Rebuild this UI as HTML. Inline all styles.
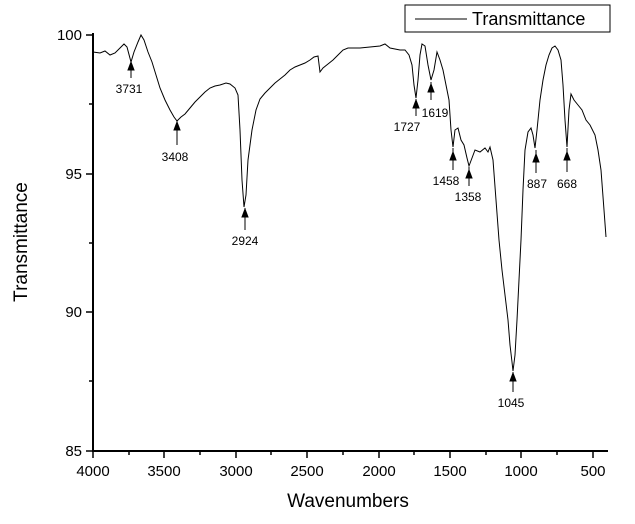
<!DOCTYPE html>
<html><head><meta charset="utf-8"><style>
html,body{margin:0;padding:0;background:#fff;}
svg{display:block;font-family:"Liberation Sans",Arial,sans-serif;}
</style></head><body>
<svg width="635" height="524" viewBox="0 0 635 524" xmlns="http://www.w3.org/2000/svg">
<rect width="635" height="524" fill="#fff"/>
<!-- axes -->
<g stroke="#000" stroke-width="2" fill="none">
<line x1="93" y1="33" x2="93" y2="451"/>
<line x1="92" y1="451" x2="608" y2="451"/>
</g>
<g stroke="#000" stroke-width="1.5">
<line x1="86" y1="35" x2="93" y2="35"/><line x1="86" y1="174" x2="93" y2="174"/>
<line x1="86" y1="312" x2="93" y2="312"/><line x1="86" y1="451" x2="93" y2="451"/>
<line x1="89" y1="104" x2="93" y2="104"/><line x1="89" y1="243" x2="93" y2="243"/><line x1="89" y1="381" x2="93" y2="381"/>
<line x1="93" y1="451" x2="93" y2="458"/><line x1="164" y1="451" x2="164" y2="458"/><line x1="236" y1="451" x2="236" y2="458"/>
<line x1="307" y1="451" x2="307" y2="458"/><line x1="379" y1="451" x2="379" y2="458"/><line x1="450" y1="451" x2="450" y2="458"/>
<line x1="521" y1="451" x2="521" y2="458"/><line x1="593" y1="451" x2="593" y2="458"/>
<line x1="129" y1="451" x2="129" y2="455"/><line x1="200" y1="451" x2="200" y2="455"/><line x1="271" y1="451" x2="271" y2="455"/>
<line x1="343" y1="451" x2="343" y2="455"/><line x1="414" y1="451" x2="414" y2="455"/><line x1="486" y1="451" x2="486" y2="455"/><line x1="557" y1="451" x2="557" y2="455"/>
</g>
<g font-size="15" fill="#000" text-anchor="end">
<text x="82" y="40">100</text><text x="82" y="179">95</text><text x="82" y="317">90</text><text x="82" y="456">85</text>
</g>
<g font-size="15" fill="#000" text-anchor="middle">
<text x="93" y="476">4000</text><text x="164" y="476">3500</text><text x="236" y="476">3000</text><text x="307" y="476">2500</text>
<text x="379" y="476">2000</text><text x="450" y="476">1500</text><text x="521" y="476">1000</text><text x="593" y="476">500</text>
</g>
<text x="348" y="507" font-size="19" text-anchor="middle">Wavenumbers</text>
<text transform="translate(27,242) rotate(-90)" font-size="19" text-anchor="middle">Transmittance</text>
<!-- legend -->
<rect x="405" y="5" width="205" height="27" fill="#fff" stroke="#000" stroke-width="1"/>
<line x1="415" y1="19" x2="467" y2="19" stroke="#000" stroke-width="1"/>
<text x="472" y="25" font-size="18">Transmittance</text>
<!-- curve -->
<polyline fill="none" stroke="#000" stroke-width="1" points="
93,52 100,53 105,51 110,55 115,53 120,48 124,44 127,47 131,62 134,52 138,42 141,35 144,40 148,52 152,62 156,75 160,88 165,100 170,110 174,117 177,121 181,117 185,114 190,108 195,102 200,97 205,92 210,88 215,86 220,85 226,83 230,84 235,88 238,95 240,130 242,180 244,207 246,195 248,160 252,130 256,110 260,99 265,93 270,88 275,83 280,79 285,75 290,70 295,67 300,65 305,63 310,60 314,57 318,56 320,72 323,68 328,64 333,60 338,55 343,50 348,48 360,48 370,47 380,46 385,44 390,48 400,50 405,50 409,55 412,65 414,85 416,98 418,80 420,55 422,44 425,46 428,65 431,80 434,70 437,52 440,60 443,70 446,85 449,100 451,130 453,147 455,130 458,128 461,140 464,145 467,158 469,166 472,158 475,150 480,152 485,148 488,152 490,147 493,160 496,200 499,240 502,270 505,295 508,320 510,345 512,362 513,371 515,355 517,320 519,280 521,240 523,190 525,150 528,132 531,128 533,135 535,148 537,130 540,100 543,80 546,65 549,55 552,48 555,46 558,50 561,60 563,85 565,120 567,147 569,110 571,94 574,100 578,105 582,110 586,120 590,125 595,135 598,150 601,170 604,210 606,237"/>
<!-- annotations -->
<g stroke="#000" stroke-width="1" fill="#000">
<line x1="131" y1="62" x2="131" y2="78"/><polygon points="128,70 134,70 131,62"/>
<line x1="177" y1="121" x2="177" y2="145"/><polygon points="174,130 180,130 177,122"/>
<line x1="245" y1="208" x2="245" y2="230"/><polygon points="242,217 248,217 245,209"/>
<line x1="416" y1="99" x2="416" y2="116"/><polygon points="413,108 419,108 416,100"/>
<line x1="431" y1="82" x2="431" y2="100"/><polygon points="428,92 434,92 431,84"/>
<line x1="453" y1="148" x2="453" y2="170"/><polygon points="450,160 456,160 453,152"/>
<line x1="469" y1="167" x2="469" y2="186"/><polygon points="466,178 472,178 469,170"/>
<line x1="513" y1="372" x2="513" y2="392"/><polygon points="510,381 516,381 513,373"/>
<line x1="536" y1="150" x2="536" y2="173"/><polygon points="533,162 539,162 536,154"/>
<line x1="567" y1="148" x2="567" y2="172"/><polygon points="564,160 570,160 567,152"/>
</g>
<g font-size="12" fill="#000" text-anchor="middle">
<text x="129" y="93">3731</text>
<text x="175" y="161">3408</text>
<text x="245" y="245">2924</text>
<text x="407" y="131">1727</text>
<text x="435" y="117">1619</text>
<text x="446" y="185">1458</text>
<text x="468" y="201">1358</text>
<text x="511" y="407">1045</text>
<text x="537" y="188">887</text>
<text x="567" y="188">668</text>
</g>
</svg>
</body></html>
